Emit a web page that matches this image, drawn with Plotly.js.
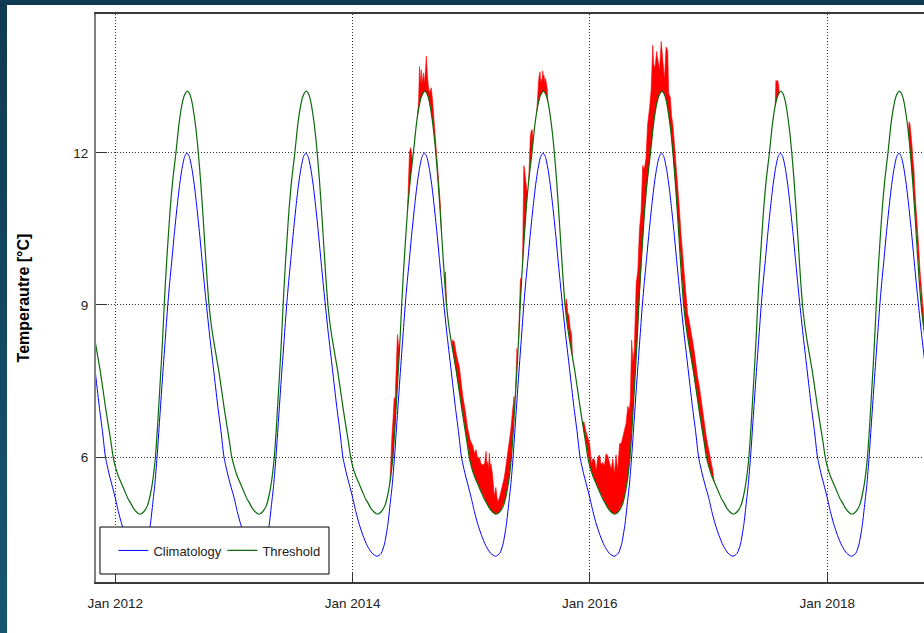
<!DOCTYPE html>
<html>
<head>
<meta charset="utf-8">
<script src="https://cdn.plot.ly/plotly-3.0.1.min.js"></script>
<style>
html,body{margin:0;padding:0;width:924px;height:633px;overflow:hidden;background:linear-gradient(to bottom,#0f3a53,#18566f);}
#chart{position:absolute;left:7px;top:5px;width:917px;height:628px;background:#fff;}
</style>
</head>
<body>
<div id="chart"></div>
<script>
// Annual cycle (day of year -> degC)
const climDoy = [0,10,20,32,45,60,75,88,98,108,116,122,129,137,145,154,162,168,174,182,190,198,206,214,221,228,236,244,252,260,268,274,281,290,299,307,316,326,335,345,355];
const climVal = [5.2,4.92,4.68,4.45,4.25,4.1,4.04,4.1,4.28,4.65,5.1,5.45,6.0,6.75,7.5,8.3,9.0,9.45,9.85,10.4,10.9,11.35,11.7,11.93,12.0,11.93,11.7,11.35,10.9,10.4,9.85,9.45,9.0,8.45,7.95,7.5,7.0,6.5,6.0,5.7,5.45];
const threshDoy = [0,10,20,30,40,47,55,65,76,88,100,108,115,120,124,130,136,142,147,151,157,163,170,177,187,196,204,212,222,229,236,243,250,256,263,270,276,282,289,296,303,311,319,327,336,345,352,358];
const threshVal = [5.82,5.62,5.47,5.32,5.17,5.1,5.0,4.92,4.87,4.92,5.05,5.25,5.5,5.75,6.0,6.55,7.2,7.85,8.45,9.0,9.7,10.3,10.95,11.45,12.0,12.55,12.9,13.12,13.22,13.17,13.02,12.75,12.4,12.0,11.45,10.8,10.2,9.6,9.0,8.6,8.3,8.0,7.7,7.35,6.95,6.58,6.3,6.03];
const cycleYears = [2011,2012,2013,2014,2015,2016,2017,2018];

// Heatwave periods: date and temperature excess above the threshold (degC)
const heatDates = [
 '2014-04-26','2014-04-29','2014-05-02','2014-05-05','2014-05-09','2014-05-12','2014-05-16','2014-05-19','2014-05-22','2014-05-25',
 '2014-06-19','2014-06-22','2014-06-25','2014-06-28','2014-07-01','2014-07-04',
 '2014-07-19','2014-07-23','2014-07-26','2014-07-28','2014-07-31','2014-08-03','2014-08-07','2014-08-10','2014-08-13','2014-08-16','2014-08-19','2014-08-23','2014-08-27','2014-08-31','2014-09-04','2014-09-08','2014-09-12','2014-09-16','2014-09-20','2014-09-24','2014-09-28','2014-10-01',
 '2014-10-11','2014-10-14','2014-10-17',
 '2014-11-03','2014-11-05','2014-11-10','2014-11-17','2014-11-26','2014-12-01','2014-12-06','2014-12-14','2014-12-21','2014-12-29','2015-01-06','2015-01-11','2015-01-16','2015-01-21','2015-01-26','2015-01-31','2015-02-05','2015-02-11','2015-02-16','2015-02-18','2015-02-21','2015-02-23','2015-02-26','2015-03-01','2015-03-03','2015-03-08','2015-03-13','2015-03-18','2015-03-23','2015-03-28','2015-04-03','2015-04-08','2015-04-13','2015-04-18','2015-04-23','2015-04-28','2015-05-03','2015-05-08','2015-05-13','2015-05-15',
 '2015-05-17','2015-05-19','2015-05-22','2015-05-24',
 '2015-05-27','2015-05-29','2015-06-01','2015-06-03','2015-06-05',
 '2015-06-08','2015-06-10','2015-06-12','2015-06-14','2015-06-16','2015-06-19','2015-06-22','2015-06-23',
 '2015-06-27','2015-06-29','2015-07-02','2015-07-05','2015-07-08','2015-07-10',
 '2015-07-22','2015-07-24','2015-07-27','2015-07-29','2015-08-01','2015-08-03','2015-08-05','2015-08-07','2015-08-09','2015-08-11','2015-08-13','2015-08-16','2015-08-18','2015-08-21','2015-08-23','2015-08-25',
 '2015-10-18','2015-10-21','2015-10-25','2015-10-29','2015-11-02','2015-11-06','2015-11-09',
 '2015-12-10','2015-12-14','2015-12-21','2015-12-26','2016-01-01','2016-01-06','2016-01-11','2016-01-16','2016-01-21','2016-01-26','2016-01-31','2016-02-05','2016-02-10','2016-02-15','2016-02-20','2016-02-25','2016-03-02','2016-03-07','2016-03-12','2016-03-17','2016-03-22','2016-03-27','2016-04-02','2016-04-07','2016-04-12','2016-04-17','2016-04-22','2016-04-27','2016-05-02','2016-05-05','2016-05-09','2016-05-13','2016-05-17','2016-05-23','2016-05-28','2016-06-02','2016-06-07','2016-06-12','2016-06-17','2016-06-22','2016-06-27','2016-07-03','2016-07-08','2016-07-13','2016-07-16','2016-07-20','2016-07-25','2016-07-28','2016-08-03','2016-08-08','2016-08-13','2016-08-18','2016-08-23','2016-08-28','2016-08-31','2016-09-05','2016-09-09','2016-09-13','2016-09-17','2016-09-22','2016-09-27','2016-10-03','2016-10-08','2016-10-13','2016-10-18','2016-10-23','2016-10-28','2016-11-02','2016-11-07','2016-11-13','2016-11-18','2016-11-23','2016-11-28','2016-12-04','2016-12-09','2016-12-14','2016-12-19','2016-12-24','2016-12-29','2017-01-04','2017-01-09','2017-01-14','2017-01-18',
 '2017-07-25','2017-07-27','2017-07-30','2017-08-02','2017-08-05','2017-08-06',
 '2018-09-08','2018-09-10','2018-09-13','2018-09-16','2018-09-19','2018-09-22','2018-09-25','2018-09-28','2018-10-01','2018-10-04','2018-10-07','2018-10-10','2018-10-14','2018-10-20','2018-10-26','2018-11-01'
];
const heatExcess = [
 0,0.5,0.6,0.7,0.8,0.5,0.7,1.0,0.5,0,
 0,0.5,0.7,0.6,0.35,0,
 0,0.15,0.75,0.35,0.55,0.22,0.4,0.16,0.4,0.73,0.4,0.2,0.25,0.5,0.45,0.3,0.3,0.25,0.3,0.25,0.2,0,
 0,0.4,0,
 0,0.2,0.35,0.35,0.5,0.4,0.38,0.4,0.36,0.42,0.5,0.45,0.6,0.5,0.6,0.55,0.6,0.7,1.0,0.75,0.86,0.7,1.08,0.8,0.92,0.72,0.33,0.53,0.23,0.26,0.36,0.46,0.5,0.6,0.66,0.72,0.66,0.62,0.43,0,
 0,0.45,0.4,0,
 0,0.4,0.45,0.3,0,
 0,1.35,1.55,1.3,1.0,0.6,0.2,0,
 0,0.4,0.6,0.55,0.4,0,
 0,0.28,0.4,0.47,0.48,0.25,0.3,0.2,0.42,0.3,0.33,0.2,0.3,0.25,0.2,0,
 0,0.35,0.3,0.4,0.3,0.35,0,
 0,0.2,0.28,0.36,0.43,0.15,0.35,0.4,0.26,0.6,0.72,0.6,0.72,0.7,1.0,1.03,0.92,0.84,1.07,0.79,1.15,0.82,1.3,1.25,1.3,1.3,1.28,1.4,1.05,1.05,1.85,1.0,0.8,1.45,1.1,1.25,1.05,1.45,0.92,0.72,1.05,1.05,1.12,1.7,1.15,0.92,1.05,0.82,0.5,1.0,0.53,0.3,1.05,1.15,0.43,0.6,0.46,0.55,0.55,0.6,0.65,0.7,0.7,0.75,0.7,0.55,0.45,0.5,0.45,0.5,0.5,0.45,0.45,0.5,0.45,0.45,0.4,0.4,0.35,0.3,0.25,0.15,0,
 0,0.45,0.35,0.3,0.15,0,
 0,0.35,0.5,0.4,0.55,0.5,0.6,0.45,0.5,0.4,0.45,0.5,0.4,0.4,0.3,0
];

const yTicks = [6, 9, 12];
const xRange = ['2011-11-03', '2018-10-26'];

const DAY = 86400000;
function buildCycle(doys, vals) {
  const xs = [], ys = [], ts = [];
  cycleYears.forEach(y => {
    const t0 = Date.UTC(y, 0, 1);
    doys.forEach((d, i) => {
      const t = t0 + d * DAY;
      ts.push(t);
      xs.push(new Date(t).toISOString().slice(0, 10));
      ys.push(vals[i]);
    });
  });
  return {xs, ys, ts};
}
const clim = buildCycle(climDoy, climVal);
const thr = buildCycle(threshDoy, threshVal);

function thrAt(t) {
  const ts = thr.ts, ys = thr.ys;
  if (t <= ts[0]) return ys[0];
  for (let i = 1; i < ts.length; i++) {
    if (t <= ts[i]) {
      const f = (t - ts[i - 1]) / (ts[i] - ts[i - 1]);
      return ys[i - 1] + f * (ys[i] - ys[i - 1]);
    }
  }
  return ys[ys.length - 1];
}

// split heat data into events (each starts and ends with zero excess)
const events = [];
let cur = [];
heatDates.forEach((d, i) => {
  cur.push(i);
  if (heatExcess[i] === 0 && cur.length > 1) { events.push(cur); cur = []; }
});

const traces = [];
events.forEach(ev => {
  const xs = ev.map(i => heatDates[i]);
  const base = ev.map(i => thrAt(Date.parse(heatDates[i])));
  const top = ev.map((i, k) => base[k] + heatExcess[i]);
  traces.push({x: xs, y: base, type: 'scatter', mode: 'lines', line: {width: 0, color: 'red'}, showlegend: false, hoverinfo: 'skip'});
  traces.push({x: xs, y: top, type: 'scatter', mode: 'lines', fill: 'tonexty', fillcolor: '#ff0000', line: {width: 0.6, color: '#ff0000'}, showlegend: false, hoverinfo: 'skip'});
});

traces.push({x: clim.xs, y: clim.ys, type: 'scatter', mode: 'lines', name: 'Climatology', line: {color: '#0000ff', width: 1, shape: 'spline', smoothing: 0.6}});
traces.push({x: thr.xs, y: thr.ys, type: 'scatter', mode: 'lines', name: 'Threshold', line: {color: '#0b6b0b', width: 1.2, shape: 'spline', smoothing: 0.6}});

const FONT = 'Liberation Sans, Arial, sans-serif';
const layout = {
  width: 917, height: 628,
  margin: {l: 89, r: 0, t: 9, b: 51},
  paper_bgcolor: '#ffffff', plot_bgcolor: '#ffffff',
  font: {family: FONT, size: 13, color: '#222'},
  showlegend: true,
  legend: {orientation: 'h', traceorder: 'normal', x: 0.021, y: 0.0555, xanchor: 'left', yanchor: 'middle',
           entrywidth: 64, entrywidthmode: 'pixels',
           bgcolor: 'rgba(0,0,0,0)', borderwidth: 0, font: {family: FONT, size: 13, color: '#222'}},
  xaxis: {
    type: 'date', range: xRange, tick0: '2012-01-01', dtick: 'M24', tickformat: '%b %Y',
    ticks: 'inside', ticklen: 9, tickcolor: '#333', tickwidth: 1,
    showgrid: true, gridcolor: '#333', griddash: '1px,2px', gridwidth: 1,
    showline: true, linecolor: '#3a3a3a', linewidth: 2, mirror: true, zeroline: false,
    ticklabelstandoff: 8, tickfont: {family: FONT, size: 13.5, color: '#222'}
  },
  yaxis: {
    range: [3.533, 14.743], tickvals: yTicks, ticktext: yTicks.map(String),
    ticks: 'inside', ticklen: 11, tickcolor: '#333', tickwidth: 1,
    showgrid: true, gridcolor: '#333', griddash: '1px,2px', gridwidth: 1,
    showline: true, linecolor: '#808080', linewidth: 2, zeroline: false,
    ticklabelstandoff: 3, tickfont: {family: FONT, size: 13.5, color: '#222'},
    title: {text: 'Temperautre [°C]', font: {family: FONT, size: 16, color: '#000', weight: 'bold'}, standoff: 40}
  },
  shapes: [{type: 'rect', xref: 'paper', yref: 'paper', x0: 0.0048, x1: 0.2814, y0: 0.0141, y1: 0.0968,
            line: {color: '#000', width: 1}, fillcolor: '#ffffff', layer: 'above'}]
};

Plotly.newPlot('chart', traces, layout, {staticPlot: true, displayModeBar: false});
</script>
</body>
</html>
